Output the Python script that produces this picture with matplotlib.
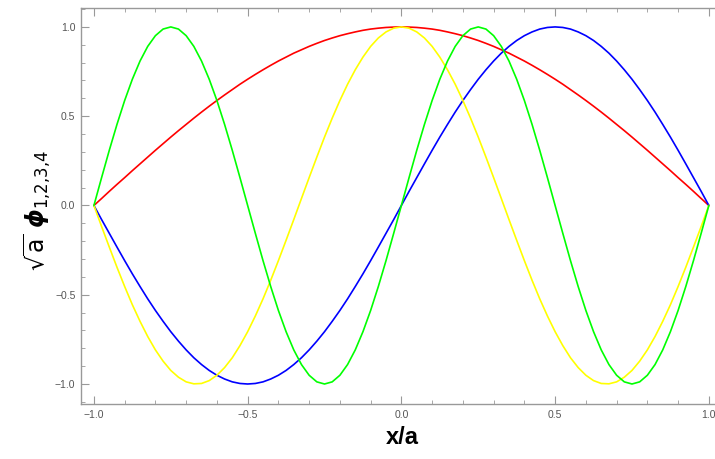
import numpy as np
import matplotlib
matplotlib.use("Agg")
import matplotlib.pyplot as plt
from matplotlib.ticker import MultipleLocator

# x/a sampled every 0.025 from -1 to 1
x_vals = np.linspace(-1.0, 1.0, 81)

phi1 = [0.000, 0.039, 0.079, 0.118, 0.156, 0.195, 0.233, 0.271, 0.309, 0.346,
        0.383, 0.419, 0.454, 0.489, 0.523, 0.556, 0.588, 0.619, 0.649, 0.679,
        0.707, 0.734, 0.760, 0.785, 0.809, 0.831, 0.853, 0.872, 0.891, 0.908,
        0.924, 0.938, 0.951, 0.962, 0.972, 0.981, 0.988, 0.993, 0.997, 0.999,
        1.000,
        0.999, 0.997, 0.993, 0.988, 0.981, 0.972, 0.962, 0.951, 0.938, 0.924,
        0.908, 0.891, 0.872, 0.853, 0.831, 0.809, 0.785, 0.760, 0.734, 0.707,
        0.679, 0.649, 0.619, 0.588, 0.556, 0.523, 0.489, 0.454, 0.419, 0.383,
        0.346, 0.309, 0.271, 0.233, 0.195, 0.156, 0.118, 0.079, 0.039, 0.000]
phi2 = [0.000, -0.079, -0.156, -0.233, -0.309, -0.383, -0.454, -0.523, -0.588, -0.649,
        -0.707, -0.760, -0.809, -0.853, -0.891, -0.924, -0.951, -0.972, -0.988, -0.997,
        -1.000, -0.997, -0.988, -0.972, -0.951, -0.924, -0.891, -0.853, -0.809, -0.760,
        -0.707, -0.649, -0.588, -0.523, -0.454, -0.383, -0.309, -0.233, -0.156, -0.079,
        0.000,
        0.079, 0.156, 0.233, 0.309, 0.383, 0.454, 0.523, 0.588, 0.649, 0.707,
        0.760, 0.809, 0.853, 0.891, 0.924, 0.951, 0.972, 0.988, 0.997, 1.000,
        0.997, 0.988, 0.972, 0.951, 0.924, 0.891, 0.853, 0.809, 0.760, 0.707,
        0.649, 0.588, 0.523, 0.454, 0.383, 0.309, 0.233, 0.156, 0.079, 0.000]
phi3 = [0.000, -0.118, -0.233, -0.346, -0.454, -0.556, -0.649, -0.734, -0.809, -0.872,
        -0.924, -0.962, -0.988, -0.999, -0.997, -0.981, -0.951, -0.908, -0.853, -0.785,
        -0.707, -0.619, -0.523, -0.419, -0.309, -0.195, -0.079, 0.039, 0.156, 0.271,
        0.383, 0.489, 0.588, 0.679, 0.760, 0.831, 0.891, 0.938, 0.972, 0.993,
        1.000,
        0.993, 0.972, 0.938, 0.891, 0.831, 0.760, 0.679, 0.588, 0.489, 0.383,
        0.271, 0.156, 0.039, -0.079, -0.195, -0.309, -0.419, -0.523, -0.619, -0.707,
        -0.785, -0.853, -0.908, -0.951, -0.981, -0.997, -0.999, -0.988, -0.962, -0.924,
        -0.872, -0.809, -0.734, -0.649, -0.556, -0.454, -0.346, -0.233, -0.118, 0.000]
phi4 = [0.000, 0.156, 0.309, 0.454, 0.588, 0.707, 0.809, 0.891, 0.951, 0.988,
        1.000, 0.988, 0.951, 0.891, 0.809, 0.707, 0.588, 0.454, 0.309, 0.156,
        0.000, -0.156, -0.309, -0.454, -0.588, -0.707, -0.809, -0.891, -0.951, -0.988,
        -1.000, -0.988, -0.951, -0.891, -0.809, -0.707, -0.588, -0.454, -0.309, -0.156,
        0.000,
        0.156, 0.309, 0.454, 0.588, 0.707, 0.809, 0.891, 0.951, 0.988, 1.000,
        0.988, 0.951, 0.891, 0.809, 0.707, 0.588, 0.454, 0.309, 0.156, 0.000,
        -0.156, -0.309, -0.454, -0.588, -0.707, -0.809, -0.891, -0.951, -0.988, -1.000,
        -0.988, -0.951, -0.891, -0.809, -0.707, -0.588, -0.454, -0.309, -0.156, 0.000]

series = [(phi1, "#ff0000"), (phi2, "#0000ff"), (phi3, "#ffff00"), (phi4, "#00ff00")]

plt.rcParams["font.family"] = ["Liberation Sans", "DejaVu Sans"]
plt.rcParams["mathtext.fontset"] = "dejavusans"

fig = plt.figure(figsize=(7.15, 4.59), dpi=100)
ax = fig.add_axes([81 / 715, 55 / 459, 1 - 81 / 715, (404 - 8) / 459])

for y, c in series:
    ax.plot(x_vals, y, color=c, lw=1.2, solid_capstyle="round", solid_joinstyle="round")

ax.set_xlim(-1.042, 1.02)
ax.set_ylim(-1.112, 1.106)
ax.xaxis.set_major_locator(MultipleLocator(0.5))
ax.xaxis.set_minor_locator(MultipleLocator(0.1))
ax.yaxis.set_major_locator(MultipleLocator(0.5))
ax.yaxis.set_minor_locator(MultipleLocator(0.1))
ax.xaxis.set_major_formatter(lambda v, p: f"{v:.1f}".replace("-", "\u2212"))
ax.yaxis.set_major_formatter(lambda v, p: f"{v:.1f}".replace("-", "\u2212"))

gray = "#999999"
for s in ("left", "bottom", "top"):
    ax.spines[s].set_color(gray)
    ax.spines[s].set_linewidth(1.0)
ax.spines["right"].set_visible(False)
ax.tick_params(which="both", direction="in", color=gray, top=True, right=False,
               labelsize=7.5, labelcolor="#555555", pad=4)
ax.tick_params(which="major", length=6, width=0.8)
ax.tick_params(which="minor", length=3, width=0.6)

fig.text(402 / 715, 1 - 438 / 459, "x/a", fontsize=17, fontweight="bold",
         ha="center", va="center")
fig.text(37 / 715, 1 - 210 / 459, r"$\sqrt{\mathrm{a}}\ \mathbfit{\phi}_{1{,}2{,}3{,}4}$",
         fontsize=17, rotation=90, ha="center", va="center")

fig.savefig("out.png", dpi=100)
